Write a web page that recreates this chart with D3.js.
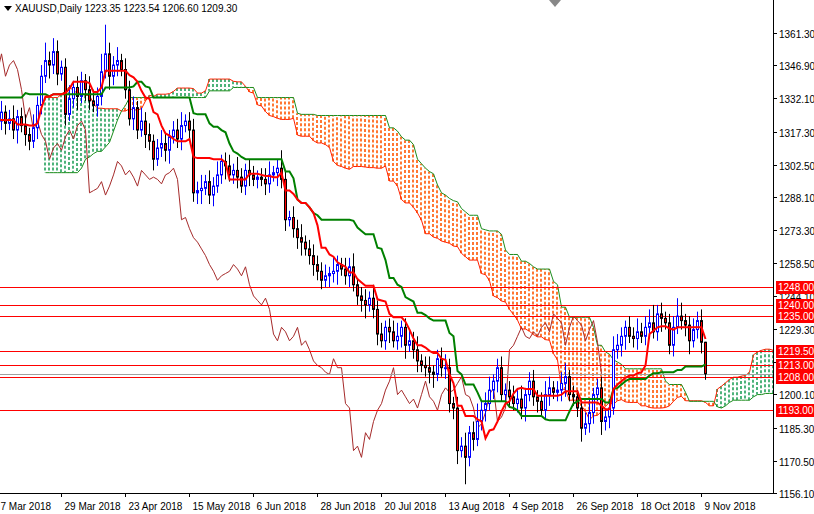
<!DOCTYPE html><html><head><meta charset="utf-8">
<script src="https://cdn.jsdelivr.net/npm/d3@7"></script>
<style>body{margin:0;background:#fff}svg{display:block;font-family:"Liberation Sans",Arial,sans-serif}</style>
</head><body><svg id="c" width="814" height="514"></svg>
<script>
// bars before the visible window (Dec 2017 – early Mar 2018), needed for the Ichimoku lines
const priorCloses=[
1275,1268,1262,1264,1252,1248,1246,1243,1247,1255,1257,1260,1264,1262,1266,1270,1280,1290,1298,1303,
1313,1316,1320,1318,1322,1328,1334,1337,1339,1336,1333,1331,1340,1344,1352,1348,1355,1348,1340,1344,
1336,1332,1330,1326,1318,1310,1316,1322,1330,1337,1352,1355,1348,1351,1340,1329,1332,1330,1322,1318,
1331,1326,1318,1314,1319,1322];
const closes=[
1326,1321,1323,1318,1324,1320,1316,1313,1319,1329,1342,1349,1347,1353,1343,1346,
1325,1332,1337,1333,1340,1336,1331,1329,1333,1344,1352,1342,1347,1349,1345,1336,
1323,1328,1318,1322,1316,1313,1305,1310,1312,1309,1315,1318,1314,1320,1322,1318,
1290,1291,1292,1295,1289,1293,1298,1304,1302,1298,1300,1297,1293,1300,1298,1296,
1297,1296,1294,1298,1299,1301,1296,1278,1279,1274,1270,1268,1265,1262,1258,1255,
1251,1253,1254,1255,1258,1256,1253,1257,1249,1244,1242,1240,1243,1238,1227,1224,
1230,1228,1224,1226,1230,1222,1224,1220,1215,1213,1212,1210,1209,1216,1212,1212,
1196,1194,1175,1177,1172,1183,1180,1188,1193,1196,1202,1206,1212,1200,1202,1199,
1196,1198,1194,1200,1206,1199,1197,1193,1200,1203,1201,1202,1205,1208,1200,1199,
1194,1185,1187,1192,1200,1203,1188,1190,1194,1220,1222,1226,1230,1226,1225,1228,
1226,1230,1232,1228,1236,1234,1232,1222,1230,1235,1233,1231,1224,1229,1233,1223.35,1209.30];
const wickUp=[5,3,4,6,3,4,5,3,6,4,5,8,4,6,5,3, 4,6,3,5,4,3,6,5,4,8,13,5,4,6,3,5, 4,5,3,6,4,5,3,4,6,5,3,4,5,6,3,4, 5,4,6,3,5,4,6,3,4,5,3,6,4,3,5,4, 3,4,5,6,3,4,8,4,3,5,4,6,3,4,5,4, 4,5,3,6,4,3,5,4,6,3,4,5,3,6,4,5, 3,4,5,6,3,4,5,4,6,3,4,5,3,4,5,6, 4,3,5,4,6,3,5,8,4,5,6,3,4,5,3,4, 5,4,6,3,4,5,3,4,6,5,3,4,5,6,3,4, 3,4,5,6,3,4,5,3,4,6,5,4,3,5,4,6, 4,5,6,8,4,5,3,4,5,8,6,3,4,5,4,5,0.19];
const wickDn=[4,5,3,4,6,3,5,4,3,5,4,3,6,4,5,3, 5,3,4,6,3,5,4,3,5,4,3,6,4,5,3,4, 3,5,4,3,6,4,5,3,4,5,6,3,4,5,3,4, 4,5,6,3,4,5,3,4,6,3,4,5,3,4,5,3, 4,3,5,4,3,6,4,5,3,4,5,6,3,4,5,4, 4,3,5,4,6,3,4,5,3,4,5,6,3,4,5,3, 4,5,3,4,5,6,3,4,5,3,4,5,6,3,4,5, 4,5,6,3,12,4,5,3,4,5,3,4,5,3,4,5, 3,4,5,6,3,4,5,3,4,5,3,4,5,6,3,4, 4,6,3,4,5,3,6,4,5,3,4,5,6,3,4,5, 3,4,5,3,4,6,3,4,5,3,4,5,6,3,4,5,2.7];
const dateLabels=["7 Mar 2018","29 Mar 2018","23 Apr 2018","15 May 2018","6 Jun 2018","28 Jun 2018","20 Jul 2018","13 Aug 2018","4 Sep 2018","26 Sep 2018","18 Oct 2018","9 Nov 2018"];
const priceTicks=[1361.30,1346.90,1332.10,1317.30,1302.50,1288.10,1273.30,1258.50,1244.10,1229.30,1214.50,1200.10,1185.30,1170.50,1156.10];
const levels=[1248.00,1240.00,1235.00,1219.50,1213.00,1208.00,1193.00];
const title="XAUUSD,Daily  1223.35 1223.54 1206.60 1209.30";

const svg=d3.select("#c"),W=773,H=493,SH=26,P=priorCloses.length;
const all=priorCloses.concat(closes),N=all.length;
const x=d3.scaleLinear().domain([P,P+176]).range([1,705]);
const X=i=>Math.round(x(i))+.5;
const y=d3.scaleLinear().domain([1156.1,1361.3]).range([493,33]);
const bars=all.map((c,i)=>{const o=i?all[i-1]:c+2;const j=i-P;const wu=j>=0?wickUp[j]:4,wd=j>=0?wickDn[j]:4;return{i,o,c,h:Math.max(o,c)+wu,l:Math.min(o,c)-wd};});
function mid(i,p){if(i-p+1<0)return null;let s=bars.slice(i-p+1,i+1);return (d3.max(s,d=>d.h)+d3.min(s,d=>d.l))/2;}
const tenkan=bars.map((d,i)=>mid(i,9)), kijun=bars.map((d,i)=>mid(i,26));
const cloud=[];for(let i=0;i<N;i++){const a=(tenkan[i]!=null&&kijun[i]!=null)?(tenkan[i]+kijun[i])/2:null,b=mid(i,52);if(a!=null&&b!=null)cloud.push({i:i+SH,a,b});}
const chikou=bars.map(d=>({i:d.i-SH,v:d.c}));
svg.append("defs").append("clipPath").attr("id","cp").append("rect").attr("width",W).attr("height",H);
const g=svg.append("g").attr("clip-path","url(#cp)");
g.append("g").selectAll("line.hatch").data(cloud).join("line").attr("class","hatch")
 .attr("x1",d=>Math.round(x(d.i))).attr("x2",d=>Math.round(x(d.i))).attr("y1",d=>y(d.a)).attr("y2",d=>y(d.b))
 .style("stroke",d=>d.a>=d.b?"#22a05a":"#ff5500").style("stroke-width","1.6px").style("stroke-dasharray","3,2");
const ln=(acc,fn)=>d3.line().defined(d=>fn(d)!=null).x(d=>X(acc(d))).y(d=>y(fn(d)));
g.append("path").datum(cloud).attr("d",ln(d=>d.i,d=>d.a)).attr("fill","none").attr("stroke","#ff2000").attr("stroke-width",1);
g.append("path").datum(cloud).attr("d",ln(d=>d.i,d=>d.b)).attr("fill","none").attr("stroke","#1c8c1c").attr("stroke-width",1);
g.append("path").datum(chikou).attr("d",ln(d=>d.i,d=>d.v)).attr("fill","none").attr("stroke","#a52a2a").attr("stroke-width",1);
levels.forEach(v=>g.append("line").attr("x1",0).attr("x2",W).attr("y1",Math.round(y(v))+.5).attr("y2",Math.round(y(v))+.5).attr("stroke","#ff0000"));
g.append("line").attr("x1",0).attr("x2",W).attr("y1",Math.round(y(1209.3))+.5).attr("y2",Math.round(y(1209.3))+.5).attr("stroke","#a0a0a0");
const cg=g.append("g").selectAll("g.cd").data(bars).join("g").attr("class","cd");
cg.append("line").attr("x1",d=>X(d.i)).attr("x2",d=>X(d.i)).attr("y1",d=>y(d.h)).attr("y2",d=>y(d.l)).attr("stroke",d=>d.c>=d.o?"#0000ff":"#000");
cg.append("rect").attr("x",d=>X(d.i)-1).attr("width",2).attr("y",d=>y(Math.max(d.o,d.c))).attr("height",d=>Math.max(1,y(Math.min(d.o,d.c))-y(Math.max(d.o,d.c))))
 .attr("fill",d=>d.c>=d.o?"#fff":"#ff0000").attr("stroke",d=>d.c>=d.o?"#0000ff":"#000").attr("stroke-width",1);
g.append("path").datum(kijun.map((v,i)=>({i,v}))).attr("d",ln(d=>d.i,d=>d.v)).attr("fill","none").attr("stroke","#008000").attr("stroke-width",2);
g.append("path").datum(tenkan.map((v,i)=>({i,v}))).attr("d",ln(d=>d.i,d=>d.v)).attr("fill","none").attr("stroke","#ff0000").attr("stroke-width",2);
svg.append("line").attr("x1",W+.5).attr("x2",W+.5).attr("y1",0).attr("y2",H).attr("stroke","#000");
svg.append("line").attr("x1",0).attr("x2",W).attr("y1",H+.5).attr("y2",H+.5).attr("stroke","#000");
priceTicks.forEach(v=>{const yy=Math.round(y(v))+.5;svg.append("line").attr("x1",W).attr("x2",W+4).attr("y1",yy).attr("y2",yy).attr("stroke","#000");
 svg.append("text").attr("x",779).attr("y",yy+4).attr("font-size",10).text(v.toFixed(2));});
dateLabels.forEach((t,k)=>{const xx=Math.round(x(P+176-16*(dateLabels.length-1-k)))-3.5;svg.append("line").attr("x1",xx).attr("x2",xx).attr("y1",H).attr("y2",H+4).attr("stroke","#000");
 svg.append("text").attr("x",xx+3).attr("y",510).attr("font-size",10).text(t);});
levels.forEach(v=>{const yy=Math.round(y(v));svg.append("rect").attr("x",776).attr("y",yy-6).attr("width",38).attr("height",13).attr("fill","#ff0000");
 svg.append("text").attr("x",778).attr("y",yy+4).attr("font-size",10).attr("fill","#fff").text(v.toFixed(2));});
svg.append("path").attr("d","M4,6 L12,6 L8,11 Z").attr("fill","#000");
svg.append("text").attr("x",15).attr("y",12).attr("font-size",10).text(title);
svg.append("path").attr("d","M549,0 L561,0 L555,7 Z").attr("fill","#888");
</script></body></html>
